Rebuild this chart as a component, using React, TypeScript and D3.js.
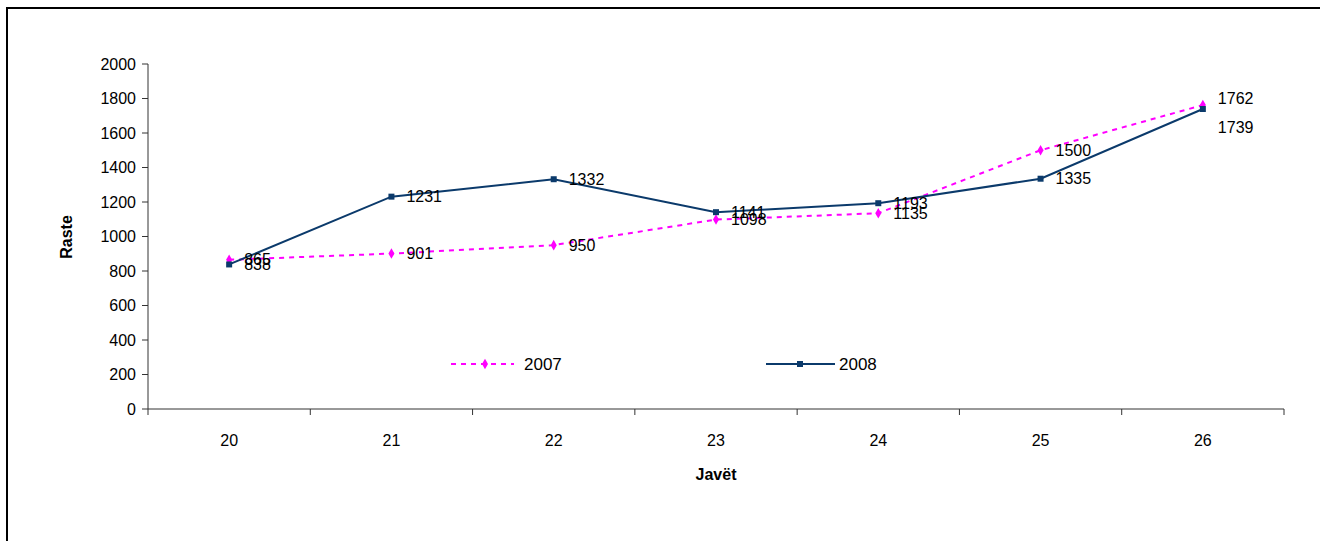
import React from 'react';
import { scaleLinear, scaleBand, line, symbol, symbolDiamond, symbolSquare } from 'd3';

const weeks = ['20', '21', '22', '23', '24', '25', '26'];
const cases2007 = [865, 901, 950, 1098, 1135, 1500, 1762];
const cases2008 = [838, 1231, 1332, 1141, 1193, 1335, 1739];
const yTicks = [0, 200, 400, 600, 800, 1000, 1200, 1400, 1600, 1800, 2000];

const font = 'Liberation Sans, Arial, sans-serif';
const pink = '#FF00FF';
const navy = '#0B3A6B';

const App: React.FC = () => {
  const width = 1320;
  const height = 541;

  const x = scaleBand<string>().domain(weeks).range([148, 1284]);
  const y = scaleLinear().domain([0, 2000]).range([409, 64]);
  const cx = (w: string) => (x(w) as number) + x.bandwidth() / 2;

  const gen = line<number>().x((d, i) => cx(weeks[i])).y(d => y(d));
  const diamond = symbol().type(symbolDiamond).size(32)();
  const square = symbol().type(symbolSquare).size(36)();

  // excel nudged the last pair of labels apart
  const dy2007 = (i: number) => (i === 6 ? -7 : 0);
  const dy2008 = (i: number) => (i === 6 ? 18 : 0);

  const boundaries = weeks.map(w => x(w) as number).concat([1284]);

  return (
    <svg width={width} height={height} style={{ position: 'absolute', left: 0, top: 0 }} fontFamily={font}>
      <rect x={0} y={0} width={width} height={height} fill="#fff" />
      <rect x={7} y={8} width={1400} height={600} fill="none" stroke="#000" strokeWidth={2} />

      {/* axes */}
      <line x1={148} x2={148} y1={y(2000)} y2={y(0)} stroke="#333" strokeWidth={1} />
      <line x1={148} x2={1284} y1={y(0)} y2={y(0)} stroke="#333" strokeWidth={1} />
      {yTicks.map(t => (
        <g key={t}>
          <line x1={142} x2={148} y1={y(t)} y2={y(t)} stroke="#333" />
          <text x={136} y={y(t)} dy="0.35em" textAnchor="end" fontSize={16}>{t}</text>
        </g>
      ))}
      {boundaries.map((b, i) => (
        <line key={i} x1={b} x2={b} y1={y(0)} y2={y(0) + 6} stroke="#333" />
      ))}
      {weeks.map(w => (
        <text key={w} x={cx(w)} y={446} textAnchor="middle" fontSize={16}>{w}</text>
      ))}
      <text x={716} y={480} textAnchor="middle" fontSize={16} fontWeight="bold">Javët</text>
      <text transform={`translate(72,237) rotate(-90)`} textAnchor="middle" fontSize={16} fontWeight="bold">Raste</text>

      {/* 2007 */}
      <path d={gen(cases2007) as string} fill="none" stroke={pink} strokeWidth={2} strokeDasharray="5,5" />
      {cases2007.map((v, i) => (
        <path key={i} d={diamond as string} transform={`translate(${cx(weeks[i])},${y(v)})`} fill={pink} />
      ))}

      {/* 2008 */}
      <path d={gen(cases2008) as string} fill="none" stroke={navy} strokeWidth={2} />
      {cases2008.map((v, i) => (
        <path key={i} d={square as string} transform={`translate(${cx(weeks[i])},${y(v)})`} fill={navy} />
      ))}

      {/* value labels */}
      {cases2007.map((v, i) => (
        <text key={'a' + i} x={cx(weeks[i]) + 15} y={y(v) + dy2007(i)} dy="0.35em" fontSize={16}>{v}</text>
      ))}
      {cases2008.map((v, i) => (
        <text key={'b' + i} x={cx(weeks[i]) + 15} y={y(v) + dy2008(i)} dy="0.35em" fontSize={16}>{v}</text>
      ))}

      {/* legend */}
      <line x1={451} x2={514} y1={364} y2={364} stroke={pink} strokeWidth={2} strokeDasharray="5,5" />
      <path d={diamond as string} transform="translate(485,364)" fill={pink} />
      <text x={524} y={364} dy="0.35em" fontSize={17}>2007</text>
      <line x1={766} x2={835} y1={364} y2={364} stroke={navy} strokeWidth={2} />
      <path d={square as string} transform="translate(800,364)" fill={navy} />
      <text x={839} y={364} dy="0.35em" fontSize={17}>2008</text>
    </svg>
  );
};

export default App;
